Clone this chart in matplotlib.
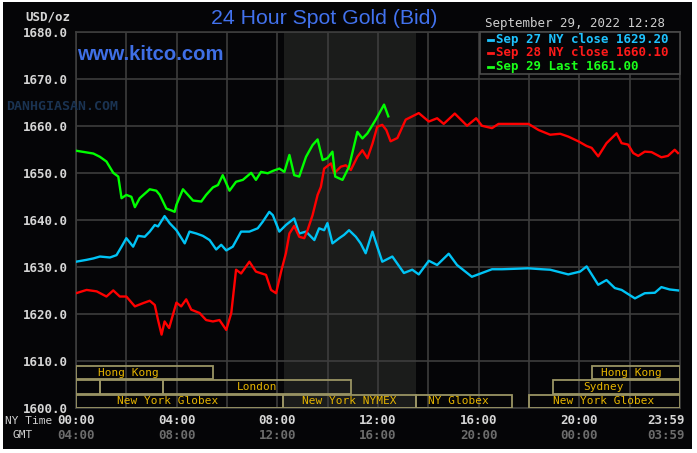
import matplotlib
matplotlib.use("Agg")
import matplotlib.pyplot as plt
from matplotlib.patches import Rectangle
from matplotlib.lines import Line2D

# ---------------- data ----------------
cyan_h = [0, 0.42, 0.69, 0.95, 1.35, 1.61, 1.81, 2.0, 2.27, 2.47, 2.73, 2.93, 3.13, 3.26, 3.52,
          3.72, 3.99, 4.32, 4.51, 4.78, 5.04, 5.31, 5.57, 5.77, 5.97, 6.23, 6.56, 6.89, 7.22, 7.42,
          7.68, 7.82, 8.08, 8.34, 8.67, 8.87, 9.14, 9.47, 9.66, 9.86, 9.99, 10.19, 10.46, 10.65, 10.85,
          11.12, 11.31, 11.51, 11.78, 11.97, 12.17, 12.57, 13.03, 13.36, 13.62, 14.02, 14.35, 14.81,
          15.14, 15.73, 16.13, 16.53, 16.93, 17.98, 18.51, 18.84, 19.56, 20.03, 20.29, 20.75, 21.08,
          21.41, 21.68, 22.21, 22.6, 23.0, 23.26, 23.59, 23.92]
cyan_v = [1631.1, 1631.5, 1631.8, 1632.2, 1632.0, 1632.5, 1634.3, 1636.1, 1634.3, 1636.6, 1636.4,
          1637.5, 1638.9, 1638.6, 1640.8, 1639.3, 1637.8, 1635.0, 1637.5, 1637.1, 1636.6, 1635.7,
          1633.7, 1634.7, 1633.5, 1634.3, 1637.5, 1637.5, 1638.2, 1639.6, 1641.7, 1641.0, 1637.5,
          1638.9, 1640.3, 1637.1, 1637.5, 1635.7, 1638.2, 1637.8, 1639.3, 1635.0, 1636.1, 1636.8,
          1637.8, 1636.4, 1635.0, 1632.9, 1637.5, 1634.3, 1631.1, 1632.2, 1628.7, 1629.4, 1628.4,
          1631.3, 1630.4, 1632.8, 1630.4, 1627.9, 1628.7, 1629.5, 1629.5, 1629.7, 1629.5, 1629.4,
          1628.4, 1629.0, 1630.1, 1626.2, 1627.2, 1625.5, 1625.1, 1623.3, 1624.4, 1624.5, 1625.7,
          1625.2, 1625.0]

red_h = [0, 0.42, 0.82, 1.21, 1.48, 1.74, 2.0, 2.34, 2.67, 2.93, 3.13, 3.26, 3.4, 3.52, 3.7, 3.99,
         4.18, 4.38, 4.58, 4.91, 5.17, 5.44, 5.7, 5.97, 6.17, 6.36, 6.56, 6.89, 7.15, 7.55, 7.75, 7.95,
         8.15, 8.34, 8.48, 8.67, 8.87, 9.07, 9.2, 9.4, 9.6, 9.73, 9.86, 10.13, 10.26, 10.52, 10.72,
         10.92, 11.18, 11.38, 11.58, 11.78, 11.97, 12.17, 12.33, 12.5, 12.77, 13.1, 13.62, 14.02,
         14.35, 14.61, 15.05, 15.54, 15.9, 16.13, 16.53, 16.79, 17.98, 18.38, 18.84, 19.24, 19.56,
         19.96, 20.29, 20.49, 20.75, 21.08, 21.48, 21.68, 21.94, 22.14, 22.34, 22.6, 22.87, 23.26,
         23.52, 23.79, 23.92]
red_v = [1624.4, 1625.1, 1624.8, 1623.7, 1625.0, 1623.7, 1623.7, 1621.6, 1622.3, 1622.8, 1621.9,
         1618.7, 1615.6, 1618.4, 1617.0, 1622.4, 1621.6, 1623.1, 1620.9, 1620.2, 1618.7, 1618.4,
         1618.7, 1616.6, 1620.2, 1629.4, 1628.6, 1631.1, 1629.0, 1628.3, 1625.1, 1624.4, 1629.0,
         1632.9, 1637.1, 1638.7, 1636.4, 1636.1, 1637.8, 1641.0, 1645.3, 1647.0, 1650.9, 1652.0,
         1649.9, 1651.3, 1651.6, 1650.6, 1653.4, 1654.8, 1653.1, 1656.2, 1659.8, 1660.2, 1659.1,
         1656.7, 1657.4, 1661.3, 1662.7, 1660.9, 1661.6, 1660.4, 1662.6, 1660.0, 1661.6, 1660.0,
         1659.5, 1660.4, 1660.4, 1659.1, 1658.1, 1658.3, 1657.7, 1656.7, 1655.7, 1655.3, 1653.5,
         1656.3, 1658.4, 1656.3, 1656.0, 1654.2, 1653.6, 1654.5, 1654.4, 1653.3, 1653.6, 1654.9,
         1654.2]

green_h = [0, 0.69, 0.95, 1.21, 1.48, 1.68, 1.81, 2.0, 2.2, 2.34, 2.53, 2.93, 3.19, 3.33, 3.59,
           3.79, 3.92, 3.99, 4.25, 4.45, 4.65, 4.98, 5.17, 5.44, 5.64, 5.83, 6.1, 6.36, 6.63, 6.96,
           7.15, 7.35, 7.62, 7.82, 8.08, 8.28, 8.48, 8.67, 8.87, 9.14, 9.4, 9.6, 9.8, 9.99, 10.19,
           10.3, 10.59, 10.85, 11.18, 11.38, 11.58, 11.91, 12.24, 12.41]
green_v = [1654.7, 1654.1, 1653.4, 1652.4, 1650.0, 1649.2, 1644.6, 1645.3, 1644.9, 1642.7, 1644.6,
           1646.5, 1646.2, 1645.3, 1642.4, 1642.0, 1641.7, 1643.2, 1646.5, 1645.3, 1644.1, 1643.9,
           1645.3, 1646.9, 1647.4, 1649.5, 1646.2, 1648.1, 1648.5, 1650.0, 1648.5, 1650.2, 1649.9,
           1650.4, 1650.9, 1650.2, 1653.8, 1649.5, 1649.2, 1653.4, 1655.9, 1657.1, 1652.7, 1653.1,
           1654.5, 1649.2, 1648.5, 1651.3, 1658.7, 1657.3, 1658.4, 1661.3, 1664.5, 1662.0]

legend_labels = ["Sep 27 NY close 1629.20", "Sep 28 NY close 1660.10", "Sep 29 Last 1661.00"]
y_ticks = [1600, 1610, 1620, 1630, 1640, 1650, 1660, 1670, 1680]
ny_time_pos = [0, 4, 8, 12, 16, 20, 23.44]
ny_time_labels = ["00:00", "04:00", "08:00", "12:00", "16:00", "20:00", "23:59"]
gmt_labels = ["04:00", "08:00", "12:00", "16:00", "20:00", "00:00", "03:59"]

# sessions: (row, start, end, label, label_x)
sessions = [
    (0, 0.0, 5.44, "Hong Kong", 2.1),
    (0, 20.49, 24.0, "Hong Kong", 22.05),
    (1, 0.0, 0.95, "", 0),
    (1, 0.95, 3.46, "", 0),
    (1, 3.46, 10.93, "London", 7.2),
    (1, 18.96, 24.0, "Sydney", 20.97),
    (2, 0.0, 8.22, "New York Globex", 3.63),
    (2, 8.22, 13.5, "New York NYMEX", 10.87),
    (2, 13.5, 17.33, "NY Globex", 15.2),
    (2, 18.0, 24.0, "New York Globex", 20.97),
]
row_bounds = [(1606.1, 1608.9), (1603.05, 1605.9), (1600.0, 1602.85)]

# ---------------- figure ----------------
W, H = 697, 453
fig = plt.figure(figsize=(W / 100, H / 100), dpi=100, facecolor="white")
BG = "#050507"
MONO = "DejaVu Sans Mono"


def fx(x):
    return x / W


def fy(y):
    return 1 - y / H


fig.patches.append(Rectangle((fx(3), fy(449)), fx(692) - fx(3), fy(2) - fy(449),
                             transform=fig.transFigure, facecolor=BG, edgecolor="none", zorder=-10))

ax = fig.add_axes([fx(76), fy(408), fx(680) - fx(76), fy(31.7) - fy(408)])
ax.set_zorder(1)
ax.set_facecolor(BG)
ax.set_xlim(0, 24)
ax.set_ylim(1600, 1680)
ax.set_xticks(range(0, 25, 2))
ax.set_yticks(y_ticks)
ax.set_yticklabels([f"{v:.1f}" for v in y_ticks])
ax.tick_params(axis="x", length=0, labelbottom=False)
ax.tick_params(axis="y", length=0, pad=6, colors="#d6d6d6", labelsize=9)
for lab in ax.get_yticklabels():
    lab.set_fontfamily(MONO)
    lab.set_fontweight("bold")
ax.grid(True, color="#3d3d3d", linewidth=1.2, zorder=1)
ax.set_axisbelow(True)
for s in ax.spines.values():
    s.set_color("#3d3d3d")
    s.set_linewidth(1.2)

ax.axvspan(8.25, 13.5, color="#1b1c1b", zorder=0.5, linewidth=0)

ax.plot(cyan_h, cyan_v, color="#00c3f5", lw=1.7, zorder=3)
ax.plot(red_h, red_v, color="#ff0000", lw=1.7, zorder=3)
ax.plot(green_h, green_v, color="#00ff00", lw=1.7, zorder=4)

for row, s0, s1, label, lx in sessions:
    y0, y1 = row_bounds[row]
    ax.add_patch(Rectangle((s0, y0), s1 - s0, y1 - y0, facecolor="none",
                           edgecolor="#9a9464", linewidth=1.3, zorder=5))
    if label:
        ax.text(lx, (y0 + y1) / 2, label, color="#e5b400", fontsize=8, family=MONO,
                ha="center", va="center", zorder=6)

# ---------------- texts ----------------
fig.text(fx(324.5), fy(18), "24 Hour Spot Gold (Bid)", color="#4272ee", fontsize=15.3,
         family="Liberation Sans", ha="center", va="center", zorder=5)
fig.text(fx(77), fy(55), "www.kitco.com", color="#3f6fe6", fontsize=14.6,
         family="Liberation Sans", fontweight="bold", ha="left", va="center", zorder=5)
fig.text(fx(6), fy(107), "DANHGIASAN.COM", color="#1a3352", fontsize=9.5,
         family=MONO, fontweight="bold", ha="left", va="center", zorder=5)
fig.text(fx(70), fy(17), "USD/oz", color="#d6d6d6", fontsize=9, family=MONO,
         fontweight="bold", ha="right", va="center", zorder=5)
fig.text(fx(485), fy(24), "September 29, 2022 12:28", color="#cfcfcf", fontsize=9,
         family=MONO, ha="left", va="center", zorder=5)

# legend box
fig.patches.append(Rectangle((fx(480), fy(74)), fx(680) - fx(480), fy(31.7) - fy(74),
                             transform=fig.transFigure, facecolor=BG, edgecolor="#4a4a4a",
                             linewidth=1.2, zorder=6))
leg_colors = ["#1ec3ff", "#ff1a1a", "#1aff1a"]
leg_y = [39.5, 52.7, 66.7]
for lab, c, yy in zip(legend_labels, leg_colors, leg_y):
    fig.lines.append(Line2D([fx(488), fx(493)], [fy(yy), fy(yy)], transform=fig.transFigure,
                            color=c, lw=2, zorder=7))
    fig.text(fx(496.5), fy(yy), lab, color=c, fontsize=9, family=MONO, fontweight="bold",
             ha="left", va="center", zorder=7)

# time axis
fig.text(fx(52), fy(421), "NY Time", color="#cfcfcf", fontsize=8, family=MONO,
         ha="right", va="center")
fig.text(fx(33), fy(435), "GMT", color="#cfcfcf", fontsize=8, family=MONO,
         ha="right", va="center")
for p, l1, l2 in zip(ny_time_pos, ny_time_labels, gmt_labels):
    xp = 76 + p * (680 - 76) / 24
    fig.text(fx(xp), fy(421), l1, color="#d6d6d6", fontsize=9, family=MONO,
             fontweight="bold", ha="center", va="center")
    fig.text(fx(xp), fy(435.5), l2, color="#6c6c6c", fontsize=9, family=MONO,
             fontweight="bold", ha="center", va="center")

fig.savefig("out.png", dpi=100, facecolor="white")
